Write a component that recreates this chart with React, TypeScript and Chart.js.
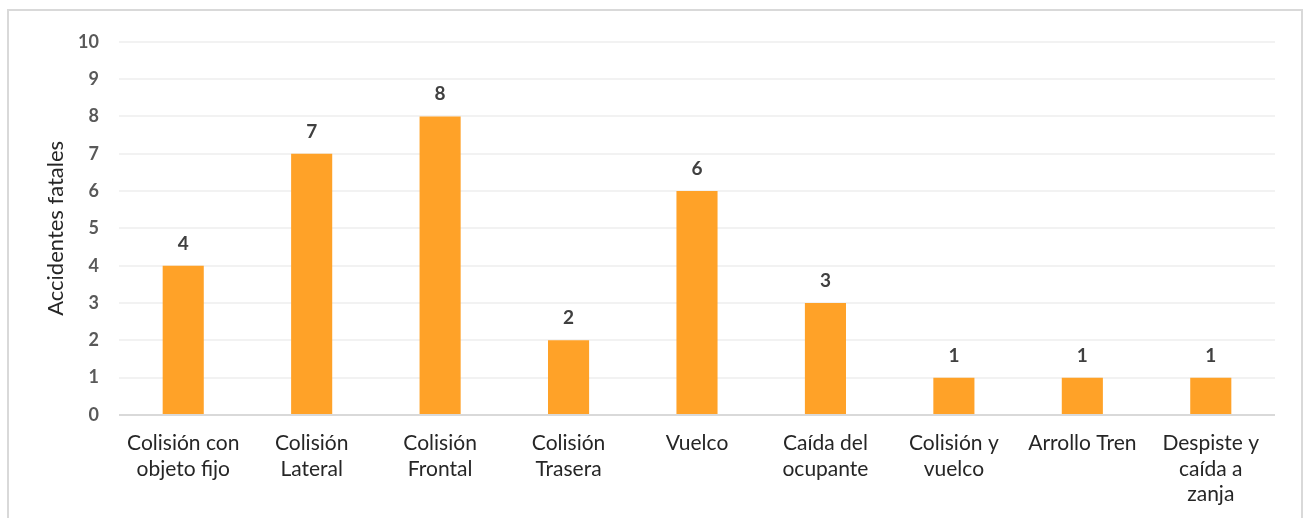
import React, { useEffect, useRef } from "react";
import { Chart, registerables } from "chart.js";

Chart.register(...registerables);

const categories: (string | string[])[] = [
  ["Colisión con", "objeto fijo"],
  ["Colisión", "Lateral"],
  ["Colisión", "Frontal"],
  ["Colisión", "Trasera"],
  "Vuelco",
  ["Caída del", "ocupante"],
  ["Colisión y", "vuelco"],
  "Arrollo Tren",
  ["Despiste y", "caída a", "zanja"],
];
const values: number[] = [4, 7, 8, 2, 6, 3, 1, 1, 1];
const yTicks: number[] = [0, 1, 2, 3, 4, 5, 6, 7, 8, 9, 10];
const yTitle = "Accidentes fatales";

const FONT = "Lato, 'Open Sans', sans-serif";

const valueLabels = {
  id: "valueLabels",
  afterDatasetsDraw(chart: any) {
    const ctx = chart.ctx;
    const meta = chart.getDatasetMeta(0);
    ctx.save();
    ctx.font = `bold 19px ${FONT}`;
    ctx.fillStyle = "#404040";
    ctx.textAlign = "center";
    ctx.textBaseline = "alphabetic";
    meta.data.forEach((bar: any, i: number) => {
      const v = chart.data.datasets[0].data[i];
      ctx.fillText(String(v), bar.x, bar.y - 16);
    });
    ctx.restore();
  },
};

export default function App() {
  const ref = useRef<HTMLCanvasElement | null>(null);
  useEffect(() => {
    if (!ref.current) return;
    const chart = new Chart(ref.current, {
      type: "bar",
      data: {
        labels: categories,
        datasets: [
          {
            data: values,
            backgroundColor: "#FFA228",
            borderWidth: 0,
            categoryPercentage: 1,
            barPercentage: 0.32,
          },
        ],
      },
      options: {
        responsive: false,
        animation: false,
        devicePixelRatio: 1,
        layout: { padding: { left: 34, top: 28, right: 26, bottom: 0 } },
        plugins: { legend: { display: false }, tooltip: { enabled: false } },
        scales: {
          x: {
            grid: { display: false, drawTicks: false },
            border: { display: false },
            ticks: {
              padding: 16,
              maxRotation: 0,
              autoSkip: false,
              color: "#262626",
              font: { family: FONT, size: 21, lineHeight: 1.2 },
            },
            afterFit: (s: any) => {
              s.height = 101;
            },
          },
          y: {
            min: 0,
            max: 10,
            afterBuildTicks: (s: any) => {
              s.ticks = yTicks.map((v) => ({ value: v }));
            },
            grid: {
              drawTicks: false,
              lineWidth: 2,
              color: (c: any) => (c.tick && c.tick.value === 0 ? "#d9d9d9" : "#f2f2f2"),
            },
            border: { display: false },
            ticks: {
              padding: 20,
              color: "#595959",
              font: { family: FONT, size: 18, weight: "bold" },
            },
            title: {
              display: true,
              text: yTitle,
              color: "#262626",
              padding: { top: 0, bottom: 0 },
              font: { family: FONT, size: 22, lineHeight: 1.2 },
            },
            afterFit: (s: any) => {
              s.width = 76;
            },
          },
        },
      },
      plugins: [valueLabels],
    });
    return () => chart.destroy();
  }, []);
  return (
    <div
      style={{
        position: "absolute",
        left: 7,
        top: 9,
        width: 1296,
        height: 530,
        border: "2px solid #d9d9d9",
        boxSizing: "border-box",
        background: "#fff",
      }}
    >
      <canvas ref={ref} width={1292} height={505} style={{ display: "block" }} />
    </div>
  );
}
